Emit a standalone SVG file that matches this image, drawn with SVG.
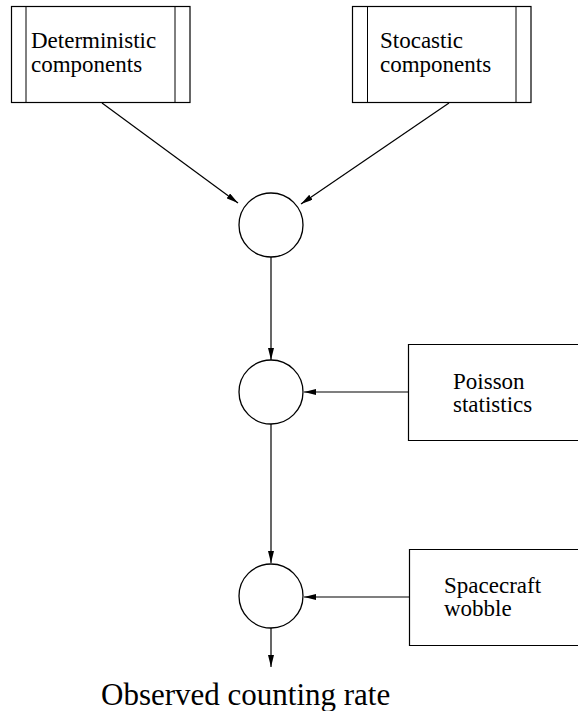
<svg xmlns="http://www.w3.org/2000/svg" width="578" height="711" viewBox="0 0 578 711">
<style>
.box{fill:#fff;stroke:#000;stroke-width:1.2}
.side{fill:none;stroke:#000;stroke-width:1}
.c{fill:#fff;stroke:#000;stroke-width:1.3}
.e{fill:none;stroke:#000;stroke-width:1.2}
text{font-family:"Liberation Serif","Times New Roman",serif;fill:#000}
.lbl{font-size:23px}
.big{font-size:31px}
</style>
<defs>
<marker id="ah" viewBox="0 0 12 6" refX="12" refY="3" markerWidth="12" markerHeight="6" markerUnits="userSpaceOnUse" orient="auto">
<path d="M0,0 L12,3 L0,6 Z" fill="#000"/>
</marker>
</defs>
<g id="connectors">
<line class="e" x1="102" y1="103" x2="238" y2="203" marker-end="url(#ah)"/>
<line class="e" x1="449" y1="103" x2="301" y2="204" marker-end="url(#ah)"/>
<line class="e" x1="271" y1="257" x2="271" y2="360" marker-end="url(#ah)"/>
<line class="e" x1="271" y1="424" x2="271" y2="563" marker-end="url(#ah)"/>
<line class="e" x1="271" y1="628" x2="271" y2="667" marker-end="url(#ah)"/>
<line class="e" x1="408" y1="392" x2="304" y2="392" marker-end="url(#ah)"/>
<line class="e" x1="409" y1="597" x2="304" y2="597" marker-end="url(#ah)"/>
</g>
<g id="deterministic">
<rect class="box" x="11.5" y="6.5" width="178.5" height="96"/>
<line class="side" x1="26" y1="6.5" x2="26" y2="102.5"/>
<line class="side" x1="175" y1="6.5" x2="175" y2="102.5"/>
<text class="lbl" x="31" y="48">Deterministic</text>
<text class="lbl" x="31" y="72">components</text>
</g>
<g id="stocastic">
<rect class="box" x="352.5" y="6.5" width="178.5" height="96"/>
<line class="side" x1="367.5" y1="6.5" x2="367.5" y2="102.5"/>
<line class="side" x1="516" y1="6.5" x2="516" y2="102.5"/>
<text class="lbl" x="380" y="48">Stocastic</text>
<text class="lbl" x="380" y="72">components</text>
</g>
<g id="sum1"><circle class="c" cx="271" cy="225" r="32"/></g>
<g id="sum2"><circle class="c" cx="271" cy="392" r="32"/></g>
<g id="sum3"><circle class="c" cx="271" cy="596" r="32"/></g>
<g id="poisson">
<path class="box" d="M579,344.5 H408.5 V440.5 H579"/>
<text class="lbl" x="453" y="389">Poisson</text>
<text class="lbl" x="453" y="412">statistics</text>
</g>
<g id="wobble">
<path class="box" d="M579,549.5 H409.5 V645.5 H579"/>
<text class="lbl" x="444" y="593">Spacecraft</text>
<text class="lbl" x="444" y="616">wobble</text>
</g>
<g id="output">
<text class="big" x="101" y="705">Observed counting rate</text>
</g>
</svg>
